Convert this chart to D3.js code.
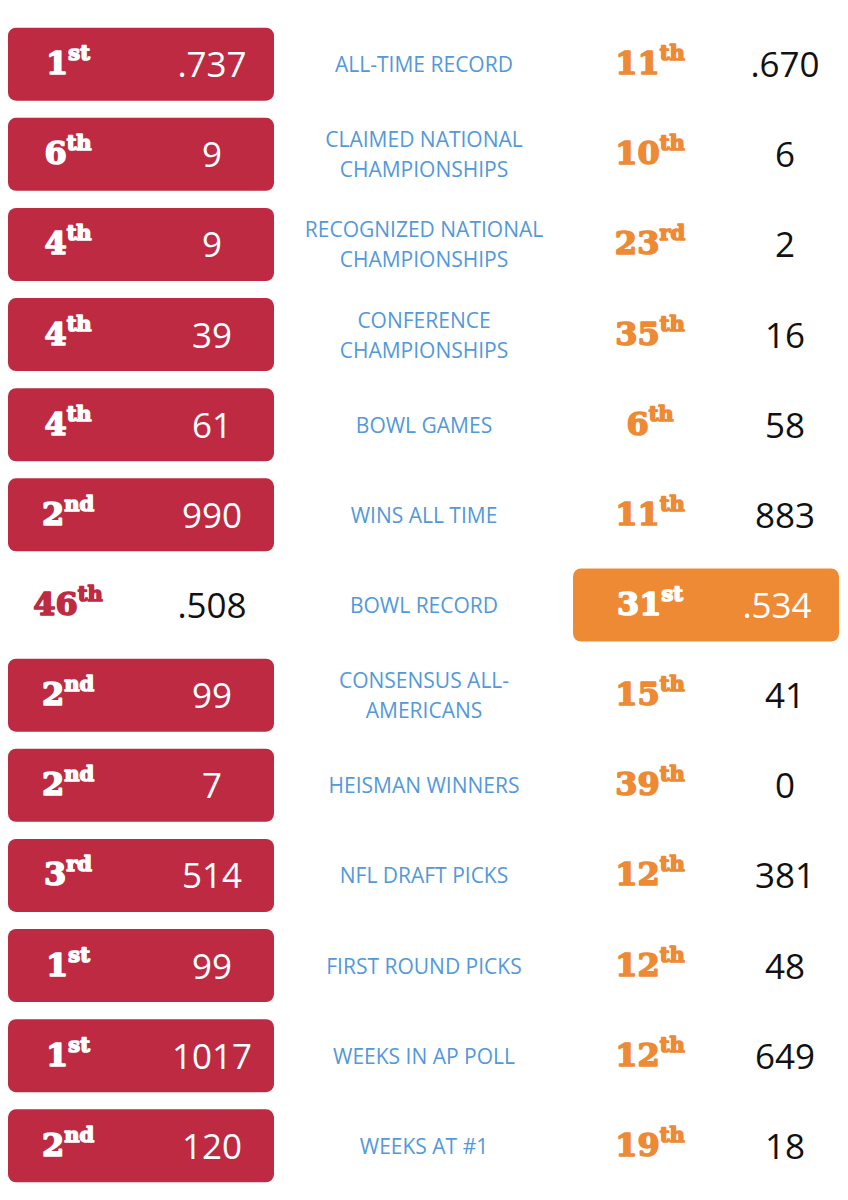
<!DOCTYPE html>
<html><head><meta charset="utf-8">
<script src="https://cdn.jsdelivr.net/npm/d3@7"></script>
<style>body{margin:0;background:#fff}</style>
</head><body>
<script>
const categorias = [["ALL-TIME RECORD"],["CLAIMED NATIONAL","CHAMPIONSHIPS"],["RECOGNIZED NATIONAL","CHAMPIONSHIPS"],["CONFERENCE","CHAMPIONSHIPS"],["BOWL GAMES"],["WINS ALL TIME"],["BOWL RECORD"],["CONSENSUS ALL-","AMERICANS"],["HEISMAN WINNERS"],["NFL DRAFT PICKS"],["FIRST ROUND PICKS"],["WEEKS IN AP POLL"],["WEEKS AT #1"]];
const rankEsq = [[1,"st"],[6,"th"],[4,"th"],[4,"th"],[4,"th"],[2,"nd"],[46,"th"],[2,"nd"],[2,"nd"],[3,"rd"],[1,"st"],[1,"st"],[2,"nd"]];
const valorEsq = [".737","9","9","39","61","990",".508","99","7","514","99","1017","120"];
const rankDir = [[11,"th"],[10,"th"],[23,"rd"],[35,"th"],[6,"th"],[11,"th"],[31,"st"],[15,"th"],[39,"th"],[12,"th"],[12,"th"],[12,"th"],[19,"th"]];
const valorDir = [".670","6","2","16","58","883",".534","41","0","381","48","649","18"];

const largura = 848, altura = 1200;
const vermelho = "#bd2a41", laranja = "#ee8934", azul = "#5399d9";

const svg = d3.select("body").append("svg").attr("width", largura).attr("height", altura);

const y = d3.scaleBand().domain(d3.range(categorias.length)).range([25, 1185]).paddingInner(0.19).paddingOuter(0.03);

const linhas = svg.selectAll("g.linha").data(categorias).join("g")
  .attr("class", "linha")
  .attr("transform", (d, i) => `translate(0,${y(i)})`);

function melhor(i) { return parseFloat(valorEsq[i]) >= parseFloat(valorDir[i]); }

linhas.filter((d, i) => melhor(i)).append("rect")
  .attr("x", 8).attr("width", 266).attr("height", y.bandwidth()).attr("rx", 8)
  .attr("fill", vermelho);
linhas.filter((d, i) => !melhor(i)).append("rect")
  .attr("x", 573).attr("width", 266).attr("height", y.bandwidth()).attr("rx", 8)
  .attr("fill", laranja);

function rank(sel, dados, x, corFn) {
  const t = sel.append("text")
    .attr("x", x).attr("y", y.bandwidth() / 2 + 10)
    .attr("text-anchor", "middle")
    .attr("font-family", "DejaVu Serif, serif").attr("font-weight", "bold")
    .attr("font-size", 32)
    .attr("fill", corFn).attr("stroke", corFn).attr("stroke-width", 1.6)
    .attr("stroke-linejoin", "round");
  t.append("tspan").text((d, i) => dados[i][0]);
  t.append("tspan").attr("dy", -14).attr("font-size", 21).text((d, i) => dados[i][1]);
}
rank(linhas, rankEsq, 68, (d, i) => melhor(i) ? "#fff" : vermelho);
rank(linhas, rankDir, 650, (d, i) => melhor(i) ? laranja : "#fff");

linhas.append("text")
  .attr("x", (d, i) => melhor(i) ? 212 : 212).attr("y", y.bandwidth() / 2 + 13)
  .attr("text-anchor", "middle")
  .attr("font-family", "Open Sans, sans-serif").attr("font-size", 35).attr("font-weight", 500)
  .attr("fill", (d, i) => melhor(i) ? "#fff" : "#111")
  .text((d, i) => valorEsq[i]);

linhas.append("text")
  .attr("x", (d, i) => melhor(i) ? 785 : 777).attr("y", y.bandwidth() / 2 + 13)
  .attr("text-anchor", "middle")
  .attr("font-family", "Open Sans, sans-serif").attr("font-size", 35).attr("font-weight", 500)
  .attr("fill", (d, i) => melhor(i) ? "#111" : "#fff")
  .text((d, i) => valorDir[i]);

linhas.each(function (d) {
  const g = d3.select(this);
  const meio = y.bandwidth() / 2;
  d.forEach((l, k) => {
    g.append("text")
      .attr("x", 424)
      .attr("y", meio + 8 + (k - (d.length - 1) / 2) * 30)
      .attr("text-anchor", "middle")
      .attr("font-family", "Open Sans, sans-serif").attr("font-size", 21)
      .attr("fill", azul)
      .text(l);
  });
});
</script>
</body></html>
